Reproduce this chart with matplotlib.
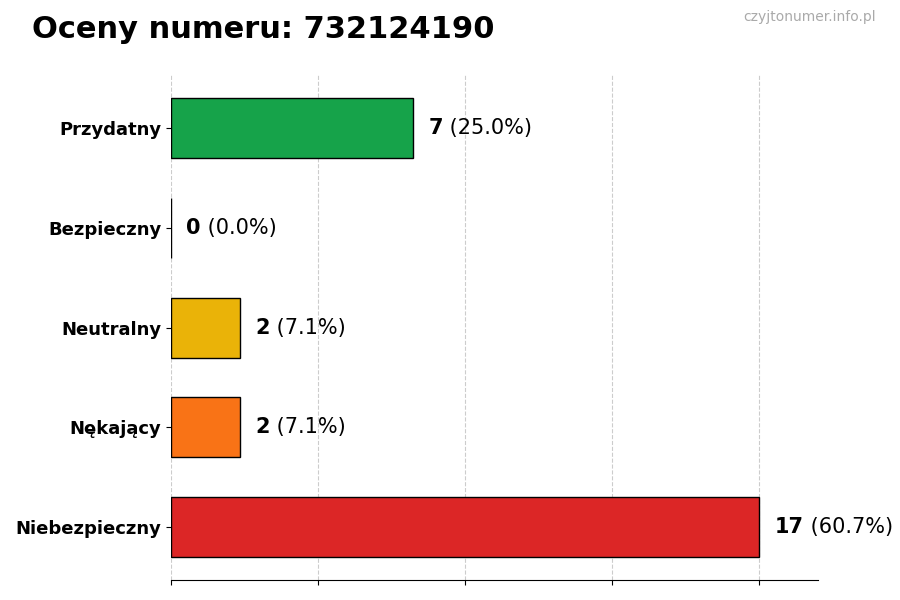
import matplotlib.pyplot as plt
import numpy as np

categories = ['Przydatny', 'Bezpieczny', 'Neutralny', 'Nękający', 'Niebezpieczny']
counts = [7, 0, 2, 2, 17]
percents = [25.0, 0.0, 7.1, 7.1, 60.7]
colours = ['#16a34a', '#a3a3a3', '#eab308', '#f97316', '#dc2626']

fig = plt.figure(figsize=(9, 6), dpi=100)
ax = fig.add_axes([0.19, 0.033, 0.719, 0.842])

ys = np.arange(len(categories))
ax.barh(ys, counts, height=0.6, color=colours, edgecolor='black', linewidth=1)

vmax = max(counts)
ax.set_xlim(0, vmax * 1.1)
ax.set_ylim(len(categories) - 0.47, -0.53)
ax.set_xticks(np.linspace(0, vmax, 5))
ax.set_xticklabels([])
ax.grid(axis='x', linestyle='--', color='#cccccc', linewidth=0.8)
ax.set_axisbelow(True)
ax.set_yticks(ys)
ax.set_yticklabels(categories, fontsize=13, fontweight='bold')
for s in ['top', 'right', 'left']:
  ax.spines[s].set_visible(False)

for y, c, p in zip(ys, counts, percents):
  t = ax.annotate(f'{c}', xy=(c, y), xytext=(11, 0), textcoords='offset points',
                  va='center', ha='left', fontsize=15, fontweight='bold')
  ax.annotate(f' ({p:.1f}%)', xy=(1, 0.5), xycoords=t, va='center', ha='left', fontsize=15)

fig.text(32 / 900, 1 - 30 / 600, 'Oceny numeru: 732124190', fontsize=22, fontweight='bold', va='center')
fig.text(876 / 900, 1 - 17 / 600, 'czyjtonumer.info.pl', fontsize=10, color='#aaaaaa', ha='right', va='center')

fig.savefig('out.png', dpi=100)
